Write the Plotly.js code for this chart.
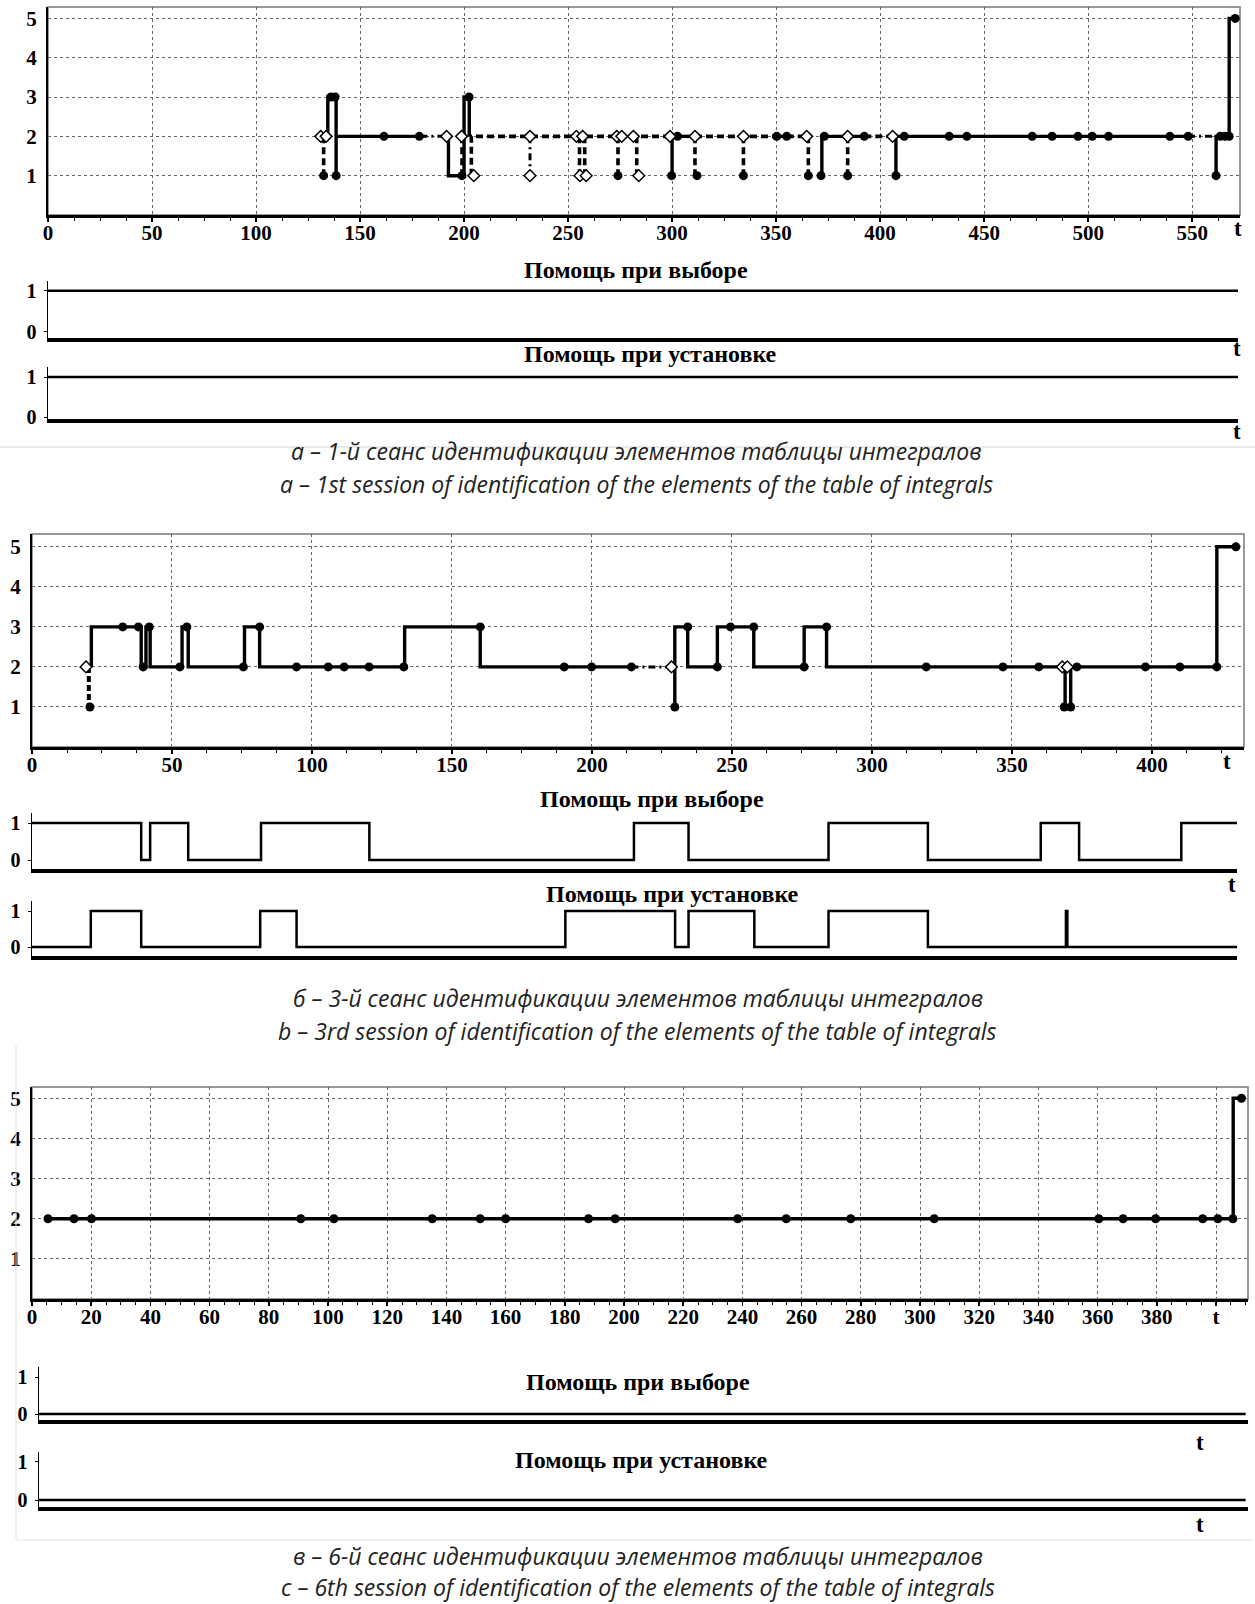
<!DOCTYPE html>
<html><head><meta charset="utf-8">
<script src="https://cdn.plot.ly/plotly-3.0.1.min.js"></script>
<style>html,body{margin:0;padding:0;background:#fff}#chart{width:1255px;height:1604px}</style>
</head><body><div id="chart"></div>
<script>
// ---------- Panel a (1st session) ----------
const a_solid_t = [134.5,134.5,138.5,138.5,null, 138.5,179,null, 192.5,192.5,200,200,202.5,202.5,null, 300,300,null, 300,311,null, 350.3,355.1,null, 372,372,392.4,null, 407.6,407.6,548,null, 561.5,561.5,567.8,567.8,570.7];
const a_solid_s = [2,3,3,1,null, 2,2,null, 2,1,1,3,3,2,null, 2,1,null, 2,2,null, 2,2,null, 1,2,2,null, 1,2,2,null, 1,2,2,5,5];
const a_dash_t = [132.5,132.5,null, 199,199,null, 203.5,203.5,300,null, 255.5,255.5,null, 258,258,null, 274,274,null, 283,283,null, 311,311,null, 311,350.3,null, 334.3,334.3,null, 355.1,365,null, 365.5,365.5,null, 384.4,384.4,null, 392.4,407.6];
const a_dash_s = [2,1,null, 2,1,null, 1,2,2,null, 2,1,null, 2,1,null, 2,1,null, 2,1,null, 2,1,null, 2,2,null, 2,1,null, 2,2,null, 2,1,null, 2,1,null, 2,2];
const a_dashdot_t = [179,192.5,null, 231.7,231.7,null, 548,561.5];
const a_dashdot_s = [2,2,null, 2,1,null, 2,2];
const a_fill_t = [132.5,136,138,138.5,161.5,178.5,199,202.4,274,299.8,302.6,312,334.3,350.3,355.1,365.5,371.6,373.2,384.4,392.4,407.6,411.6,433.2,441.7,473.1,482.7,495.1,502,509.8,539.3,548.1,561.5,563.5,565.8,567.8,570.7];
const a_fill_s = [1,3,3,1,2,2,1,3,1,1,2,1,1,2,2,1,1,2,1,2,1,2,2,2,2,2,2,2,2,2,2,1,2,2,2,5];
const a_open_t = [131.1,133.7,191.6,198.8,204.7,231.7,231.7,254,257,255.7,258.7,273.4,275.8,281.4,284,299,311,334.3,364.7,384.4,406];
const a_open_s = [2,2,2,2,1,2,1,2,2,1,1,2,2,2,1,2,2,2,2,2,2];
const a_sel_t = [0,572], a_sel_v = [1,1];
const a_inst_t = [0,572], a_inst_v = [1,1];
const a_xticks = [0,50,100,150,200,250,300,350,400,450,500,550];

// ---------- Panel b (3rd session) ----------
const b_solid_t = [21.2,21.2,39,39,40.7,40.7,42.2,42.2,53.6,53.6,55.8,55.8,75.9,75.9,81.3,81.3,133.1,133.1,160.1,160.1,214.1,null, 229.6,229.6,234.2,234.2,244.8,244.8,257.8,257.8,275.8,275.8,283.8,283.8,369,369,371,371,423.2,423.2,430];
const b_solid_s = [2,3,3,2,2,3,3,2,2,3,3,2,2,3,3,2,2,3,3,2,2,null, 1,3,3,2,2,3,3,2,2,3,3,2,2,1,1,2,2,5,5];
const b_dash_t = [20.3,20.3];
const b_dash_s = [2,1];
const b_dashdot_t = [214.1,228.4];
const b_dashdot_s = [2,2];
const b_fill_t = [20.7,32.4,38,39.7,41.9,52.8,55.3,75.5,81.3,94.5,105.8,111.5,120.4,132.8,160.1,190.1,199.9,214.1,229.6,234.2,244.8,249.5,257.8,275.8,283.8,319.4,346.8,359.6,368.7,371,373.2,397.7,410,423.2,430];
const b_fill_s = [1,3,3,2,3,2,3,2,3,2,2,2,2,2,3,2,2,2,1,3,2,3,3,2,3,2,2,2,1,1,2,2,2,2,5];
const b_open_t = [19.3,228.4,368,369.8];
const b_open_s = [2,2,2,2];
const b_sel_t = [0,39,42.2,55.8,81.8,120.5,215,234.5,284.5,320,360.3,374,410.5,430.4];
const b_sel_v = [1,0,1,0,1,0,1,0,1,0,1,0,1,1];
const b_inst_t = [0,21,39,81.5,94.5,190.5,229.7,234.5,258,284.5,320,369.3,369.8,430.4];
const b_inst_v = [0,1,0,1,0,1,0,1,0,1,0,1,0,0];
const b_xticks = [0,50,100,150,200,250,300,350,400];

// ---------- Panel c (6th session) ----------
const c_solid_t = [5.4,405.8,405.8,408.5];
const c_solid_s = [2,2,5,5];
const c_fill_t = [5.4,14.2,20.1,90.8,102,135.2,151.4,160,188,197,238.4,254.8,276.6,304.8,360.4,368.6,379.6,395.5,400.6,405.7,408.6];
const c_fill_s = [2,2,2,2,2,2,2,2,2,2,2,2,2,2,2,2,2,2,2,2,5];
const c_sel_t = [0,410], c_sel_v = [0,0];
const c_inst_t = [0,410], c_inst_v = [0,0];
const c_xticks = [0,20,40,60,80,100,120,140,160,180,200,220,240,260,280,300,320,340,360,380,400];
const c_xticktext = ['0','20','40','60','80','100','120','140','160','180','200','220','240','260','280','300','320','340','360','380','t'];

const yStates = [1,2,3,4,5];

// ---------- texts ----------
const titleSel = 'Помощь при выборе';
const titleInst = 'Помощь при установке';
const captions = [
 'а – 1-й сеанс идентификации элементов таблицы интегралов',
 'a – 1st session of identification of the elements of the table of integrals',
 'б – 3-й сеанс идентификации элементов таблицы интегралов',
 'b – 3rd session of identification of the elements of the table of integrals',
 'в – 6-й сеанс идентификации элементов таблицы интегралов',
 'c – 6th session of identification of the elements of the table of integrals'
];

// ---------- layout helpers ----------
const W = 1255, H = 1604;
const px = (a,b) => [a/W, b/W];
const py = (top,bottom) => [1-bottom/H, 1-top/H];
const serif = 'Liberation Serif, Times New Roman, serif';
const tickFont = {family: serif, size: 21, color: '#000', weight: 'bold'};
const subTickFont = {family: serif, size: 20, color: '#000', weight: 'bold'};
const gridC = '#666';

function mainX(dom, range, anchor, tickvals, ticktext, minorDt){
  return {domain: dom, range: range, anchor: anchor, showline: true, linecolor: '#000', linewidth: 3,
    tickmode: 'array', tickvals: tickvals, ticktext: ticktext || tickvals.map(String),
    ticks: 'outside', ticklen: 4, tickwidth: 1.5, tickcolor: '#000', ticklabelstandoff: -7,
    showgrid: true, gridcolor: gridC, gridwidth: 1, griddash: '3px,3px', zeroline: false,
    tickfont: tickFont, fixedrange: true,
    minor: {dtick: minorDt, tick0: 0, ticks: 'outside', ticklen: 3, tickcolor: '#000', tickwidth: 1, showgrid: false}};
}
function mainY(dom, range, anchor){
  return {domain: dom, range: range, anchor: anchor, showline: true, linecolor: '#000', linewidth: 2,
    tickmode: 'array', tickvals: yStates, ticks: '', showgrid: true, gridcolor: gridC, gridwidth: 1,
    griddash: '3px,3px', zeroline: false, tickfont: tickFont, fixedrange: true, ticklabelstandoff: 5};
}
function subX(dom, range, anchor){
  return {domain: dom, range: range, anchor: anchor, showline: true, linecolor: '#000', linewidth: 3.5,
    showticklabels: false, ticks: '', showgrid: false, zeroline: false, fixedrange: true};
}
function subY(dom, range, anchor){
  return {domain: dom, range: range, anchor: anchor, showline: true, linecolor: '#000', linewidth: 1.5,
    tickmode: 'array', tickvals: [0,1], ticktext: ['0','1'], ticks: 'outside', ticklen: 3, tickcolor: '#000',
    showgrid: false, zeroline: false, tickfont: subTickFont, fixedrange: true, ticklabelstandoff: 3};
}

// ---------- traces ----------
const traces = [];
function lineTr(x, y, xa, ya, dash, w){
  traces.push({type: 'scatter', mode: 'lines', x: x, y: y, xaxis: xa, yaxis: ya, connectgaps: false,
    line: {color: '#000', width: w || 3, dash: dash || 'solid'}, hoverinfo: 'skip', showlegend: false, cliponaxis: false});
}
function fillTr(x, y, xa, ya){
  traces.push({type: 'scatter', mode: 'markers', x: x, y: y, xaxis: xa, yaxis: ya,
    marker: {color: '#000', size: 9, symbol: 'circle'}, showlegend: false, cliponaxis: false});
}
function openTr(x, y, xa, ya){
  traces.push({type: 'scatter', mode: 'markers', x: x, y: y, xaxis: xa, yaxis: ya,
    marker: {color: '#fff', size: 9, symbol: 'diamond', line: {color: '#000', width: 1.5}}, showlegend: false, cliponaxis: false});
}
function stepTr(x, y, xa, ya){
  traces.push({type: 'scatter', mode: 'lines', x: x, y: y, xaxis: xa, yaxis: ya,
    line: {color: '#000', width: 2.5, shape: 'hv'}, showlegend: false, cliponaxis: false});
}

// panel a
lineTr(a_solid_t, a_solid_s, 'x', 'y', 'solid', 3.4);
lineTr(a_dash_t, a_dash_s, 'x', 'y', '7px,4px', 3.6);
lineTr(a_dashdot_t, a_dashdot_s, 'x', 'y', '7px,4px,2px,4px', 3);
fillTr(a_fill_t, a_fill_s, 'x', 'y');
openTr(a_open_t, a_open_s, 'x', 'y');
stepTr(a_sel_t, a_sel_v, 'x2', 'y2');
stepTr(a_inst_t, a_inst_v, 'x3', 'y3');
// panel b
lineTr(b_solid_t, b_solid_s, 'x4', 'y4', 'solid', 3.4);
lineTr(b_dash_t, b_dash_s, 'x4', 'y4', '6px,3px', 4);
lineTr(b_dashdot_t, b_dashdot_s, 'x4', 'y4', '7px,4px,2px,4px', 3);
fillTr(b_fill_t, b_fill_s, 'x4', 'y4');
openTr(b_open_t, b_open_s, 'x4', 'y4');
stepTr(b_sel_t, b_sel_v, 'x5', 'y5');
stepTr(b_inst_t, b_inst_v, 'x6', 'y6');
// panel c
lineTr(c_solid_t, c_solid_s, 'x7', 'y7', 'solid', 3.4);
fillTr(c_fill_t, c_fill_s, 'x7', 'y7');
stepTr(c_sel_t, c_sel_v, 'x8', 'y8');
stepTr(c_inst_t, c_inst_v, 'x9', 'y9');

// ---------- layout ----------
const layout = {
  width: W, height: H, margin: {l: 0, r: 0, t: 0, b: 0},
  paper_bgcolor: '#fff', plot_bgcolor: 'rgba(0,0,0,0)', showlegend: false,
  font: {family: serif, color: '#000'},
  xaxis:  mainX(px(48,1240), [0,573], 'y', a_xticks, null, 12.5),
  yaxis:  mainY(py(7,215), [0,5.29], 'x'),
  xaxis2: subX(px(48,1238), [0,572], 'y2'),
  yaxis2: subY(py(281,338), [-0.15,1.24], 'x2'),
  xaxis3: subX(px(48,1238), [0,572], 'y3'),
  yaxis3: subY(py(367,419), [-0.05,1.25], 'x3'),
  xaxis4: mainX(px(32,1244), [0,432.9], 'y4', b_xticks, null, 12.5),
  yaxis4: mainY(py(534,747), [0,5.32], 'x4'),
  xaxis5: subX(px(32,1237), [0,430.4], 'y5'),
  yaxis5: subY(py(813,869), [-0.24,1.27], 'x5'),
  xaxis6: subX(px(32,1237), [0,430.4], 'y6'),
  yaxis6: subY(py(901,956), [-0.25,1.28], 'x6'),
  xaxis7: mainX(px(32,1248), [0,410.8], 'y7', c_xticks, c_xticktext, 5),
  yaxis7: mainY(py(1087,1299), [0,5.28], 'x7'),
  xaxis8: subX(px(39,1248), [0,410.8], 'y8'),
  yaxis8: subY(py(1367,1420), [-0.16,1.27], 'x8'),
  xaxis9: subX(px(39,1248), [0,410.8], 'y9'),
  yaxis9: subY(py(1452,1507), [-0.18,1.26], 'x9'),
  shapes: [],
  annotations: []
};
// frames of main plots
[['x','y'],['x4','y4'],['x7','y7']].forEach(([xa,ya]) => {
  layout.shapes.push({type: 'rect', xref: xa + ' domain', yref: ya + ' domain', x0: 0, x1: 1, y0: 0, y1: 1,
    line: {color: '#777', width: 1.5}, layer: 'below'});
});
// light separator and frame of panel c (paper refs)
layout.shapes.push({type: 'line', xref: 'paper', yref: 'paper', x0: 0, x1: 1, y0: 1-447/H, y1: 1-447/H, line: {color: '#d4d4d4', width: 1}});
layout.shapes.push({type: 'line', xref: 'paper', yref: 'paper', x0: 16/W, x1: 16/W, y0: 1-1540/H, y1: 1-1045/H, line: {color: '#e2e2e2', width: 1}});
layout.shapes.push({type: 'line', xref: 'paper', yref: 'paper', x0: 16/W, x1: 1253/W, y0: 1-1540/H, y1: 1-1540/H, line: {color: '#e2e2e2', width: 1}});

function ann(text, x, y, font){
  layout.annotations.push({text: text, xref: 'paper', yref: 'paper', x: x/W, y: 1-y/H,
    xanchor: 'center', yanchor: 'middle', showarrow: false, font: font, borderpad: 0});
}
const titleFont = {family: serif, size: 24, color: '#000', weight: 'bold'};
const tFont = {family: serif, size: 23, color: '#000', weight: 'bold'};
const capFont = {family: 'Open Sans, Noto Sans, sans-serif', size: 23, color: '#222', style: 'italic'};

ann(titleSel, 636, 270, titleFont);
ann(titleInst, 650, 354, titleFont);
ann(titleSel, 652, 799, titleFont);
ann(titleInst, 672, 894, titleFont);
ann(titleSel, 638, 1382, titleFont);
ann(titleInst, 641, 1460, titleFont);

ann('t', 1238, 228, tFont);
ann('t', 1237, 348, tFont);
ann('t', 1237, 431, tFont);
ann('t', 1227, 761, tFont);
ann('t', 1232, 884, tFont);
ann('t', 1200, 1442, tFont);
ann('t', 1200, 1524, tFont);

ann(captions[0], 636, 451, capFont);
ann(captions[1], 636, 484, capFont);
ann(captions[2], 638, 998, capFont);
ann(captions[3], 638, 1031, capFont);
ann(captions[4], 638, 1556, capFont);
ann(captions[5], 638, 1587, capFont);

Plotly.newPlot('chart', traces, layout, {staticPlot: true, displayModeBar: false});
</script>
</body></html>
